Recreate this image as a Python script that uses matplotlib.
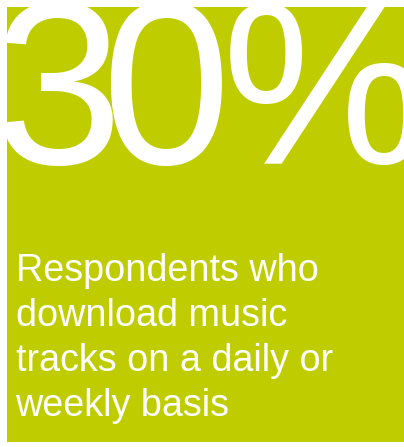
import matplotlib.pyplot as plt

# Headline figure and caption
share_value = 30
share_suffix = "%"
caption_lines = [
    "Respondents who",
    "download music",
    "tracks on a daily or",
    "weekly basis",
]

BOX_COLOR = "#bfcd00"
FONT = "Liberation Sans"


def main():
    fig = plt.figure(figsize=(4.04, 4.47), dpi=100)
    fig.patch.set_facecolor("white")

    # green panel, measured in pixels from its top-left corner
    ax = fig.add_axes([7 / 404, 5 / 447, 397 / 404, 435 / 447])
    ax.set_xlim(0, 397)
    ax.set_ylim(435, 0)
    ax.set_facecolor(BOX_COLOR)
    ax.set_xticks([])
    ax.set_yticks([])
    for sp in ax.spines.values():
        sp.set_visible(False)

    # big number, glyphs set tightly one by one
    glyphs = list(str(share_value)) + [share_suffix]
    centers = [51, 159.5, 318]
    for ch, cx in zip(glyphs, centers):
        ax.text(cx, 157, ch, color="white", fontsize=167, family=FONT,
                ha="center", va="baseline", clip_on=False)

    # caption
    for i, line in enumerate(caption_lines):
        ax.text(8.5, 274 + i * 45, line, color="white", fontsize=27.2,
                family=FONT, ha="left", va="baseline")

    fig.savefig("out.png", dpi=100, facecolor="white")
    plt.close(fig)


if __name__ == "__main__":
    main()
